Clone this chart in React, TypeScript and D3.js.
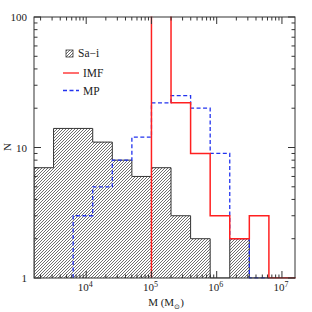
import React from 'react';
import * as d3 from 'd3';

// log10 bin edges (dex)
const binEdges = [3.2, 3.5, 3.8, 4.1, 4.4, 4.7, 5.0, 5.3, 5.6, 5.9, 6.2, 6.5, 6.8, 7.1, 7.4];
// counts per bin (null = not drawn)
const saI: (number | null)[] = [7, 14, 14, 11, 8, 6, 7, 3, 2, 0, 2, 0, 0, 0];
const imf: (number | null)[] = [null, null, null, null, null, null, 150, 22, 9, 3, 2, 3, 0, 0];
const mp: (number | null)[] = [null, null, 3, 5, 8, 12, 22, 25, 20, 9, 2, 0, null, null];

const xMajor = [4, 5, 6, 7];
const yMajor = [1, 10, 100];
const yLabels = ['1', '10', '100'];

const W = 312, H = 312;
const L = 34, R = 295, T = 17, B = 278;

const x = d3.scaleLog().domain([Math.pow(10, 3.2), Math.pow(10, 7.2)]).range([L, R]);
const y = d3.scaleLog().domain([1, 100]).range([B, T]);

const yv = (v: number) => (v <= 0 ? B : y(v));
const xe = (e: number) => x(Math.pow(10, e));

function stepPath(vals: (number | null)[]) {
  let d = '';
  let open = false;
  for (let i = 0; i < vals.length; i++) {
    const v = vals[i];
    const x0 = xe(binEdges[i]);
    const x1 = xe(binEdges[i + 1]);
    if (v === null) {
      if (open) { d += `L${x0},${B}`; open = false; }
      continue;
    }
    const yy = yv(v);
    if (!open) { d += `M${x0},${B}`; open = true; }
    d += `L${x0},${yy}L${x1},${yy}`;
    if (i === vals.length - 1) d += `L${x1},${B}`;
  }
  return d;
}

function minorTicksX() {
  const out: number[] = [];
  for (let k = 3; k <= 7; k++) for (let m = 2; m <= 9; m++) {
    const v = m * Math.pow(10, k);
    if (v > x.domain()[0] && v < x.domain()[1]) out.push(v);
  }
  return out;
}
function minorTicksY() {
  const out: number[] = [];
  for (let k = 0; k <= 1; k++) for (let m = 2; m <= 9; m++) out.push(m * Math.pow(10, k));
  return out;
}

export default function App() {
  const font = 'Liberation Serif, Times New Roman, serif';
  const axisColor = '#333';
  const satPath = stepPath(saI);
  return (
    <svg width={W} height={H} style={{ position: 'absolute', left: 0, top: 0, background: '#fff' }}>
      <defs>
        <pattern id="hatch" width={3} height={3} patternUnits="userSpaceOnUse">
          <path d="M-1,1 L1,-1 M0,3 L3,0 M2,4 L4,2" stroke="#555" strokeWidth={0.85} />
        </pattern>
        <clipPath id="plot">
          <rect x={L} y={T - 0.5} width={R - L + 0.5} height={B - T + 1} />
        </clipPath>
      </defs>
      <rect width={W} height={H} fill="#fff" />
      <g clipPath="url(#plot)">
        <path d={satPath + 'Z'} fill="url(#hatch)" stroke="none" />
        <path d={satPath} fill="none" stroke="#333" strokeWidth={1} />
        <path d={stepPath(mp)} fill="none" stroke="#2233ee" strokeWidth={1.3} strokeDasharray="4 2.5" />
        <path d={stepPath(imf)} fill="none" stroke="#ff2020" strokeWidth={1.5} />
      </g>
      {/* frame */}
      <rect x={L} y={T} width={R - L} height={B - T} fill="none" stroke={axisColor} strokeWidth={1} />
      {/* x ticks */}
      {xMajor.map(k => {
        const xx = x(Math.pow(10, k));
        return (
          <g key={'xm' + k}>
            <line x1={xx} x2={xx} y1={B} y2={B - 7} stroke={axisColor} />
            <line x1={xx} x2={xx} y1={T} y2={T + 7} stroke={axisColor} />
            <text x={xx - 1} y={291} fontFamily={font} fontSize={11} textAnchor="middle" fill="#222">
              10<tspan dy={-4} fontSize={8}>{k}</tspan>
            </text>
          </g>
        );
      })}
      {minorTicksX().map((v, i) => {
        const xx = x(v);
        return (
          <g key={'xn' + i}>
            <line x1={xx} x2={xx} y1={B} y2={B - 3.5} stroke={axisColor} />
            <line x1={xx} x2={xx} y1={T} y2={T + 3.5} stroke={axisColor} />
          </g>
        );
      })}
      {/* y ticks */}
      {yMajor.map((v, i) => {
        const yy = y(v);
        return (
          <g key={'ym' + v}>
            <line x1={L} x2={L + 7} y1={yy} y2={yy} stroke={axisColor} />
            <line x1={R} x2={R - 7} y1={yy} y2={yy} stroke={axisColor} />
            <text x={27} y={yy + 4} fontFamily={font} fontSize={11} textAnchor="end" fill="#222">{yLabels[i]}</text>
          </g>
        );
      })}
      {minorTicksY().map((v, i) => {
        const yy = y(v);
        return (
          <g key={'yn' + i}>
            <line x1={L} x2={L + 3.5} y1={yy} y2={yy} stroke={axisColor} />
            <line x1={R} x2={R - 3.5} y1={yy} y2={yy} stroke={axisColor} />
          </g>
        );
      })}
      {/* axis labels */}
      <text x={166} y={306} fontFamily={font} fontSize={11} textAnchor="middle" fill="#222">
        M  (M<tspan dy={3} fontSize={7}>⊙</tspan><tspan dy={-3}>)</tspan>
      </text>
      <text transform={`translate(11,147) rotate(-90)`} fontFamily={font} fontSize={11} textAnchor="middle" fill="#222">N</text>
      {/* legend */}
      <rect x={66} y={50} width={7} height={7} fill="url(#hatch)" stroke="#333" strokeWidth={0.8} />
      <text x={78} y={57} fontFamily={font} fontSize={11.5} fill="#222">Sa−i</text>
      <line x1={63} x2={79} y1={73} y2={73} stroke="#ff2020" strokeWidth={1.3} />
      <text x={83} y={77} fontFamily={font} fontSize={11.5} fill="#222">IMF</text>
      <line x1={63} x2={79} y1={90.5} y2={90.5} stroke="#2233ee" strokeWidth={1.3} strokeDasharray="4 2.5" />
      <text x={83} y={94.5} fontFamily={font} fontSize={11.5} fill="#222">MP</text>
    </svg>
  );
}
